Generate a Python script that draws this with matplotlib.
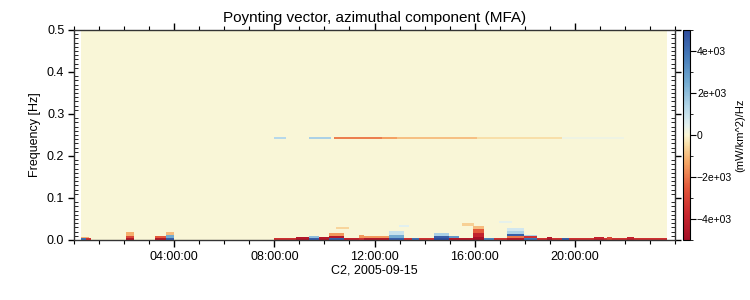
import numpy as np
import matplotlib
matplotlib.use("Agg")
import matplotlib.pyplot as plt
from matplotlib.colors import LinearSegmentedColormap
from matplotlib.ticker import MultipleLocator, FixedLocator

plt.rcParams['font.family'] = ['Liberation Sans', 'DejaVu Sans']

# ---- data (hours of day, Hz, (mW/km^2)/Hz) ----
t_start, t_end = 0.28, 23.68          # data time span (h)
f_max = 0.5
# localized patches: start hour, end hour, f low, f high, value
ev_t0 = [8.0,
         0.28, 0.50, 0.30, 2.10, 2.10, 2.10, 3.25, 3.25, 3.70, 3.70, 3.70,
         8.90, 9.40, 9.40, 9.80, 10.2, 10.2, 10.2, 10.8, 11.4, 11.6, 11.6,
         12.6, 12.6, 12.6, 13.5, 14.4, 14.4, 14.4, 15.0, 15.0, 15.4,
         15.95, 15.95, 15.95, 15.95, 16.4, 17.3, 17.3, 17.3, 17.3, 17.3,
         17.96, 17.96, 17.96, 18.9, 19.5, 20.8, 21.3, 22.1,
         10.5, 13.0, 15.5, 17.0]
ev_t1 = [23.68,
         0.50, 0.70, 0.60, 2.40, 2.40, 2.40, 3.70, 3.70, 4.00, 4.00, 4.00,
         9.40, 9.80, 9.80, 10.2, 10.8, 10.8, 10.8, 11.4, 11.6, 12.6, 12.6,
         13.2, 13.2, 13.2, 13.8, 15.0, 15.0, 15.0, 15.4, 15.4, 15.95,
         16.4, 16.4, 16.4, 16.4, 16.8, 17.96, 17.96, 17.96, 17.96, 17.96,
         18.5, 18.5, 18.5, 19.1, 19.8, 21.2, 21.5, 22.4,
         11.0, 13.4, 16.0, 17.5]
ev_f0 = [0.000,
         0.000, 0.000, 0.004, 0.000, 0.005, 0.010, 0.000, 0.005, 0.000, 0.005, 0.012,
         0.000, 0.000, 0.004, 0.000, 0.000, 0.004, 0.009, 0.000, 0.005, 0.000, 0.005,
         0.000, 0.004, 0.013, 0.000, 0.000, 0.004, 0.010, 0.000, 0.005, 0.000,
         0.000, 0.008, 0.016, 0.026, 0.000, 0.000, 0.004, 0.009, 0.015, 0.021,
         0.000, 0.004, 0.009, 0.000, 0.000, 0.000, 0.000, 0.000,
         0.026, 0.030, 0.034, 0.040]
ev_f1 = [0.004,
         0.004, 0.004, 0.008, 0.005, 0.010, 0.018, 0.005, 0.010, 0.005, 0.012, 0.020,
         0.006, 0.004, 0.010, 0.006, 0.004, 0.009, 0.016, 0.005, 0.013, 0.005, 0.010,
         0.004, 0.013, 0.022, 0.004, 0.004, 0.010, 0.016, 0.005, 0.010, 0.005,
         0.008, 0.016, 0.026, 0.034, 0.004, 0.004, 0.009, 0.015, 0.021, 0.028,
         0.004, 0.009, 0.013, 0.008, 0.004, 0.008, 0.007, 0.008,
         0.032, 0.036, 0.040, 0.046]
ev_val = [-3500,
          4000, -3500, -1200, -4500, -3000, -1200, -4500, -2500, 4500, 2500, -1000,
          -4500, 4500, 2000, -4500, 4500, -4500, -1500, -4000, -1500, -4500, -1500,
          4500, 2500, 1000, 4000, 5000, 4500, 1500, -4500, 3000, -4500,
          -5000, -4000, -2500, -1000, 3500, -4500, -2000, 4500, 1500, 800,
          4000, -3500, 1500, -4500, 4500, -4000, -3000, -4000,
          -600, 500, -700, 400]

# narrow line near 0.243 Hz
line_f0, line_f1 = 0.2415, 0.2445
line_t0 = [8.0, 9.4, 10.4, 12.3, 12.9, 16.1, 19.5]
line_t1 = [8.5, 10.3, 12.3, 12.9, 16.1, 19.5, 22.0]
line_val = [1300, 1500, -1900, -1400, -900, -450, 250]

x_tick_hours = [4, 8, 12, 16, 20]
x_tick_labels = ['04:00:00', '08:00:00', '12:00:00', '16:00:00', '20:00:00']
y_ticks = [0.0, 0.1, 0.2, 0.3, 0.4, 0.5]
y_tick_labels = ['0.0', '0.1', '0.2', '0.3', '0.4', '0.5']
cb_ticks = [-4000, -2000, 0, 2000, 4000]
cb_labels = ['\u22124e+03', '\u22122e+03', '0', '2e+03', '4e+03']

# ---- grid ----
dt, df = 0.05, 0.0005
t_edges = np.arange(t_start, t_end + dt / 2, dt)
f_edges = np.arange(0, f_max + df / 2, df)
tc = 0.5 * (t_edges[:-1] + t_edges[1:])
fc = 0.5 * (f_edges[:-1] + f_edges[1:])
Z = np.zeros((len(fc), len(tc)))
for a, b, lo, hi, v in zip(ev_t0, ev_t1, ev_f0, ev_f1, ev_val):
    m = np.outer((fc >= lo) & (fc < hi), (tc >= a) & (tc < b))
    Z[m] = v
for a, b, v in zip(line_t0, line_t1, line_val):
    m = np.outer((fc >= line_f0) & (fc < line_f1), (tc >= a) & (tc < b))
    Z[m] = v

cmap = LinearSegmentedColormap.from_list('pv', [
    (0.00, '#a50f26'), (0.12, '#c8262e'), (0.25, '#e3583a'),
    (0.37, '#f5a765'), (0.45, '#f8dca4'), (0.50, '#faf6d6'),
    (0.55, '#e2f0f0'), (0.63, '#b7d9ea'), (0.75, '#74acd2'),
    (0.88, '#4479b8'), (1.00, '#2e4c9c')])

fig = plt.figure(figsize=(7.5, 3.0), dpi=100)
ax = fig.add_axes([0.0987, 0.2, 0.8013, 0.7])
mesh = ax.pcolormesh(t_edges, f_edges, Z, cmap=cmap, vmin=-5000, vmax=5000,
                     shading='flat')
ax.set_xlim(0, 24)
ax.set_ylim(0, 0.5)
ax.xaxis.set_major_locator(FixedLocator(x_tick_hours))
ax.set_xticklabels(x_tick_labels)
ax.xaxis.set_minor_locator(MultipleLocator(1))
ax.yaxis.set_major_locator(FixedLocator(y_ticks))
ax.set_yticklabels(y_tick_labels)
ax.yaxis.set_minor_locator(MultipleLocator(0.01))
ax.tick_params(axis='x', which='major', direction='out', length=5, width=1,
               top=True, labelsize=9, pad=3)
ax.tick_params(axis='x', which='minor', direction='out', length=3, width=0.8, top=True)
ax.tick_params(axis='y', which='major', direction='out', length=4, width=1,
               right=True, labelsize=9, pad=3)
ax.tick_params(axis='y', which='minor', direction='in', length=3, width=0.6, right=True)
for s in ax.spines.values():
    s.set_color('#333333')
    s.set_linewidth(1.0)
ax.set_title('Poynting vector, azimuthal component (MFA)', fontsize=11, pad=6)
ax.set_xlabel('C2, 2005-09-15', fontsize=9, labelpad=1)
ax.set_ylabel('Frequency [Hz]', fontsize=9, labelpad=4)

cax = fig.add_axes([0.9107, 0.2, 0.0093, 0.7])
cb = fig.colorbar(mesh, cax=cax)
cb.set_ticks(cb_ticks)
cb.set_ticklabels(cb_labels)
cb.ax.yaxis.set_minor_locator(MultipleLocator(1000))
cb.ax.tick_params(which='major', length=4, labelsize=7.5, pad=1)
cb.ax.tick_params(which='minor', length=2)
cb.outline.set_linewidth(0.8)
cb.set_label('(mW/km^2)/Hz', fontsize=8, labelpad=2)

fig.savefig('out.png', dpi=100)
